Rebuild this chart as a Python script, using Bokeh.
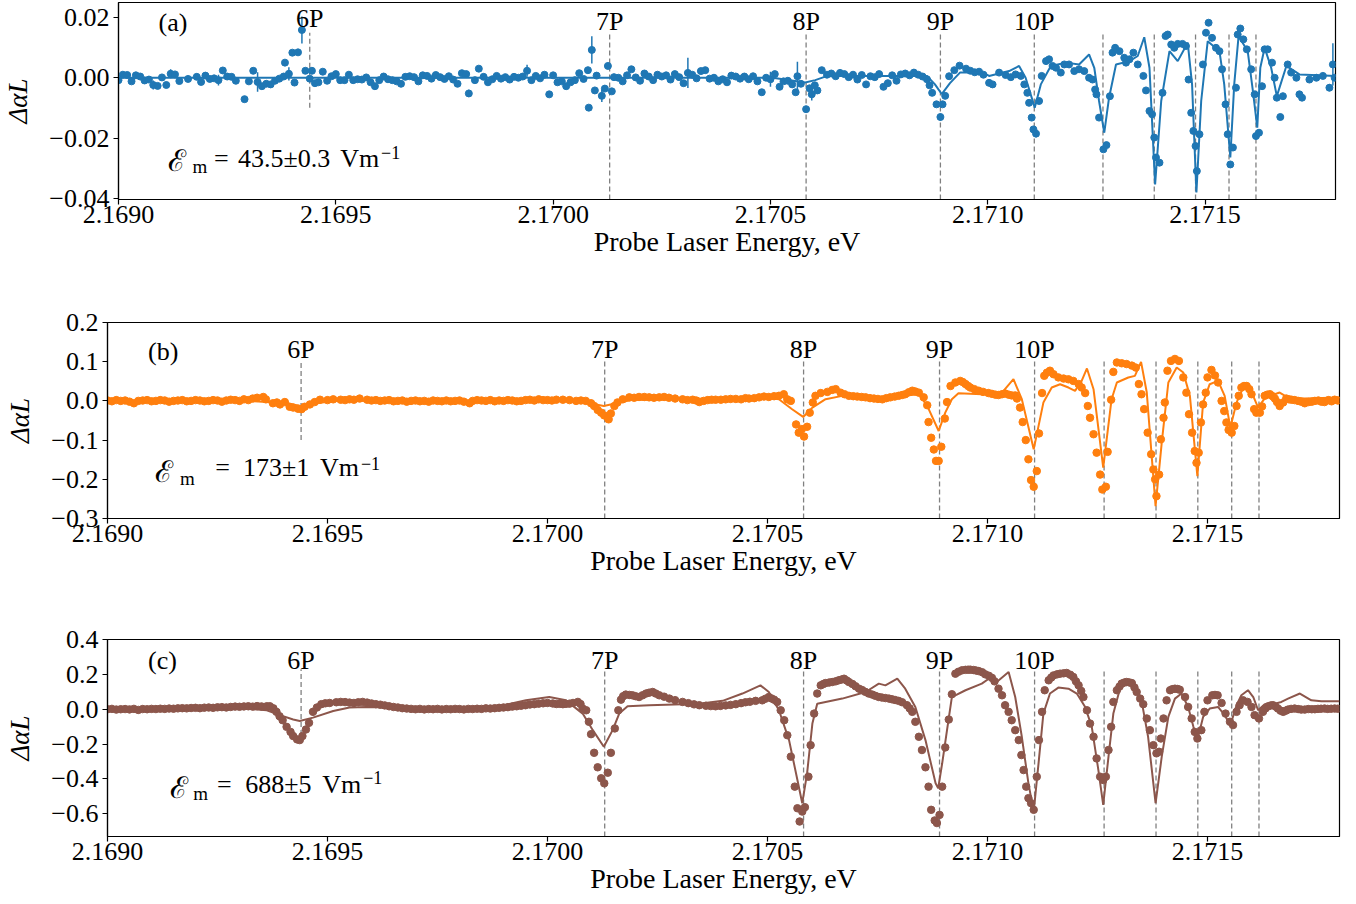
from bokeh.plotting import figure
from bokeh.models import Range1d, FixedTicker, CustomJSTickFormatter, Label
from bokeh.embed import file_html
from bokeh.resources import INLINE

FONT = "Liberation Serif"

# ---------------- shared values ----------------
x_ticks = [2.1690, 2.1695, 2.1700, 2.1705, 2.1710, 2.1715]
rydberg_E = [2.169440, 2.170130, 2.170582, 2.170891, 2.171107,
             2.171265, 2.171383, 2.171478, 2.171555, 2.171617]
rydberg_labels = ["6P", "7P", "8P", "9P", "10P"]
panel_letters = ["(a)", "(b)", "(c)"]
field_values = ["43.5\u00b10.3", "173\u00b11", "688\u00b15"]

a_yticks = [-0.04, -0.02, 0.0, 0.02]
b_yticks = [-0.3, -0.2, -0.1, 0.0, 0.1, 0.2]
c_yticks = [-0.6, -0.4, -0.2, 0.0, 0.2, 0.4]

# ---------------- panel (a): 43.5 V/m ----------------
a_E = [
 2.16900, 2.16901, 2.16902, 2.16903, 2.16904, 2.16905, 2.16906, 2.16907, 2.16908, 2.16909,
 2.16910, 2.16911, 2.16912, 2.16913, 2.16914, 2.16916, 2.16918, 2.16919, 2.16920, 2.16921,
 2.16922, 2.16923, 2.16924, 2.16925, 2.16926, 2.16927, 2.16929, 2.16930, 2.16931, 2.16932,
 2.16933, 2.16934, 2.16935, 2.16936, 2.16937, 2.16938, 2.169383, 2.169392, 2.169400, 2.169405,
 2.169413, 2.169422, 2.169430, 2.169440, 2.169445, 2.169452, 2.16946, 2.16947, 2.16948, 2.16949,
 2.16950, 2.16951, 2.16952, 2.16953, 2.16954, 2.16955, 2.16956, 2.16957, 2.16958, 2.16959,
 2.16960, 2.16961, 2.16962, 2.16963, 2.16964, 2.16965, 2.16966, 2.16967, 2.16968, 2.16969,
 2.16970, 2.16971, 2.16972, 2.16973, 2.16974, 2.16975, 2.16976, 2.16977, 2.16978, 2.16979,
 2.16980, 2.169806, 2.16982, 2.169829, 2.16984, 2.16985, 2.16986, 2.16987, 2.16988, 2.16989,
 2.16990, 2.16991, 2.16992, 2.16993, 2.16994, 2.16995, 2.16996, 2.16997, 2.16998, 2.169991,
 2.17000, 2.17001, 2.17002, 2.17003, 2.17004, 2.17005, 2.17006, 2.17007, 2.170080, 2.170082,
 2.170089, 2.170096, 2.17010, 2.170112, 2.170119, 2.170126, 2.170135, 2.17014, 2.17015, 2.17016,
 2.17017, 2.17018, 2.17019, 2.17020, 2.17021, 2.17022, 2.17023, 2.17024, 2.17025, 2.17026,
 2.17027, 2.17028, 2.17029, 2.17030, 2.17031, 2.17032, 2.17033, 2.17034, 2.17035, 2.17036,
 2.17037, 2.17038, 2.17039, 2.17040, 2.17041, 2.17042, 2.17043, 2.17044, 2.17045, 2.17046,
 2.17047, 2.170480, 2.17049, 2.17050, 2.17051, 2.170521, 2.17053, 2.17054, 2.17055, 2.170558,
 2.170562, 2.17057, 2.170582, 2.17059, 2.170595, 2.170602, 2.170608, 2.170618, 2.17063, 2.17064,
 2.17065, 2.17066, 2.17067, 2.17068, 2.17069, 2.17070, 2.17071, 2.17072, 2.17073, 2.17074,
 2.17075, 2.17076, 2.17077, 2.17078, 2.17079, 2.17080, 2.17081, 2.17082, 2.17083, 2.17084,
 2.17085, 2.17086, 2.170866, 2.170872, 2.170882, 2.170891, 2.170896, 2.170902, 2.170911, 2.170923,
 2.170935, 2.17095, 2.17096, 2.17097, 2.17098, 2.17099, 2.171003, 2.171011, 2.171026, 2.171041,
 2.171053, 2.171064, 2.171076, 2.171084, 2.171091, 2.171095, 2.171101, 2.171105, 2.171111, 2.171118,
 2.171124, 2.171134, 2.171141, 2.171149, 2.171157, 2.171168, 2.171176, 2.171187, 2.171199, 2.171210,
 2.171222, 2.171233, 2.171241, 2.171247, 2.171250, 2.171256, 2.171266, 2.171273, 2.171281, 2.171287,
 2.171293, 2.171303, 2.171314, 2.171318, 2.171326, 2.171335, 2.171345, 2.171358, 2.171364, 2.171372,
 2.171378, 2.171383, 2.171387, 2.171395, 2.171402, 2.171409, 2.171414, 2.171422, 2.171429, 2.171437,
 2.171448, 2.171456, 2.171462, 2.171468, 2.171473, 2.171478, 2.171481, 2.171487, 2.171495, 2.171502,
 2.171508, 2.171516, 2.171525, 2.171533, 2.171539, 2.171547, 2.171552, 2.171558, 2.171564, 2.171571,
 2.171575, 2.171581, 2.171588, 2.171596, 2.171606, 2.171614, 2.171617, 2.171624, 2.171631, 2.171637,
 2.171644, 2.171654, 2.171660, 2.171665, 2.171673, 2.171679, 2.171690, 2.171698, 2.171710, 2.171717,
 2.171723, 2.171740, 2.171756, 2.171771, 2.171786, 2.171794, 2.171798,
]
a_v = [
 -0.0008, 0.0010, 0.0009, -0.0012, 0.0008, 0.0004, -0.0009, -0.0006, -0.0024, -0.0027,
 0.0001, -0.0024, 0.0013, 0.0011, -0.0011, -0.0004, 0.0003, -0.0014, 0.0007, -0.0004,
 -0.0002, -0.0008, 0.0024, 0.0004, 0.0003, -0.0010, -0.0071, -0.0012, 0.0023, -0.0014,
 -0.0028, -0.0020, -0.0022, -0.0010, -0.0003, 0.0004, 0.0050, 0.0013, 0.0083, -0.0016,
 0.0084, 0.0158, 0.0023, -0.0003, 0.0023, -0.0018, -0.0015, 0.0020, -0.0010, 0.0005,
 0.0012, -0.0008, -0.0008, 0.0010, -0.0008, -0.0005, -0.0006, 0.0001, -0.0015, -0.0028,
 -0.0008, 0.0004, -0.0005, -0.0008, -0.0012, -0.0020, 0.0003, 0.0005, 0.0002, -0.0012,
 0.0008, 0.0006, -0.0003, 0.0009, 0.0002, -0.0004, 0.0005, -0.0006, -0.0020, 0.0015,
 0.0012, -0.0052, -0.0008, 0.0030, 0.0003, -0.0015, -0.0005, 0.0006, -0.0003, 0.0002,
 -0.0006, 0.0003, 0.0000, 0.0004, 0.0023, -0.0008, 0.0006, -0.0002, 0.0010, -0.0055,
 0.0008, -0.0015, -0.0012, -0.0028, -0.0015, -0.0008, 0.0015, -0.0004, 0.0025, -0.0099,
 0.0092, -0.0042, 0.0007, -0.0060, -0.0036, 0.0039, -0.0045, 0.0002, 0.0000, -0.0012,
 0.0008, 0.0028, 0.0001, -0.0010, 0.0014, 0.0004, -0.0008, 0.0010, 0.0004, 0.0008,
 -0.0006, 0.0012, 0.0002, -0.0018, 0.0016, 0.0010, -0.0002, 0.0022, 0.0025, -0.0003,
 0.0000, -0.0012, -0.0005, -0.0015, 0.0007, 0.0004, -0.0003, 0.0004, -0.0005, 0.0005,
 -0.0012, -0.0048, 0.0000, -0.0005, 0.0012, -0.0030, -0.0012, -0.0010, -0.0022, -0.0048,
 0.0005, -0.0020, -0.0104, -0.0035, -0.0055, -0.0025, -0.0042, 0.0025, 0.0010, 0.0014,
 0.0005, 0.0016, 0.0012, 0.0002, 0.0010, -0.0006, 0.0009, -0.0022, 0.0005, 0.0002,
 0.0012, -0.0030, -0.0018, 0.0008, -0.0010, 0.0011, 0.0014, 0.0008, 0.0017, 0.0010,
 0.0004, -0.0005, -0.0025, -0.0050, -0.0088, -0.0130, -0.0088, -0.0060, 0.0005, 0.0025,
 0.0040, 0.0030, 0.0023, 0.0018, 0.0020, 0.0010, -0.0017, -0.0022, 0.0017, 0.0009,
 0.0002, 0.0011, 0.0006, -0.0022, -0.0050, -0.0083, -0.0132, -0.0171, -0.0185, -0.0077,
 0.0006, 0.0055, 0.0061, 0.0039, 0.0033, 0.0017, 0.0044, 0.0044, 0.0022, 0.0028,
 0.0022, 0.0000, -0.0006, -0.0039, -0.0055, -0.0132, -0.0237, -0.0223, -0.0061, 0.0083,
 0.0099, 0.0088, 0.0066, 0.0050, 0.0061, 0.0083, 0.0044, 0.0006, -0.0042, -0.0110,
 -0.0121, -0.0198, -0.0264, -0.0281, -0.0050, 0.0138, 0.0143, 0.0110, 0.0099, 0.0112,
 0.0112, 0.0105, -0.0006, -0.0116, -0.0176, -0.0226, -0.0309, -0.0187, 0.0044, 0.0149,
 0.0182, 0.0132, 0.0099, 0.0088, 0.0028, -0.0088, -0.0187, -0.0287, -0.0231, -0.0033,
 0.0143, 0.0163, 0.0127, 0.0094, 0.0028, -0.0055, -0.0193, -0.0182, -0.0028, 0.0094,
 0.0094, 0.0050, 0.0000, -0.0066, -0.0130, -0.0061, 0.0044, 0.0017, 0.0000, -0.0055,
 -0.0066, -0.0006, 0.0000, 0.0006, -0.0033, 0.0044, 0.0000,
]
# points of panel (a) whose error bars are visible
a_err_E = [2.16908, 2.16912, 2.16923, 2.16932, 2.169392, 2.169422, 2.169806, 2.16994,
           2.170089, 2.170112, 2.17031, 2.17050, 2.170562, 2.170595, 2.170891, 2.171111,
           2.171786, 2.171794]
a_err_v = [-0.0024, 0.0013, -0.0008, -0.0014, 0.0013, 0.0158, -0.0052, 0.0023,
           0.0092, -0.0060, 0.0016, -0.0005, 0.0005, -0.0055, -0.0130, -0.0185,
           -0.0033, 0.0044]
a_err = [0.0015, 0.0015, 0.0018, 0.0032, 0.0022, 0.0045, 0.0012, 0.0020,
         0.0045, 0.0020, 0.0050, 0.0025, 0.0048, 0.0020, 0.0012, 0.0012,
         0.0012, 0.0070]

a_model_E = [
 2.169000, 2.170505, 2.170545, 2.170580, 2.170603, 2.170631, 2.170860, 2.170878, 2.170894, 2.170913,
 2.170936, 2.170989, 2.171003, 2.171049, 2.171072, 2.171087, 2.171108, 2.171122, 2.171145, 2.171180,
 2.171210, 2.171233, 2.171245, 2.171256, 2.171268, 2.171279, 2.171295, 2.171326, 2.171345, 2.171360,
 2.171372, 2.171385, 2.171399, 2.171418, 2.171437, 2.171460, 2.171470, 2.171480, 2.171491, 2.171506,
 2.171533, 2.171544, 2.171558, 2.171567, 2.171577, 2.171598, 2.171610, 2.171620, 2.171627, 2.171637,
 2.171652, 2.171665, 2.171687, 2.171717, 2.171802,
]
a_model_v = [
 0.0000, 0.0000, -0.0008, -0.0016, -0.0008, 0.0006, 0.0006, -0.0021, -0.0054, -0.0018,
 0.0017, 0.0017, 0.0006, 0.0022, 0.0039, 0.0000, -0.0099, -0.0022, 0.0039, 0.0050,
 0.0044, 0.0077, 0.0033, -0.0077, -0.0182, -0.0066, 0.0044, 0.0055, 0.0072, 0.0134,
 0.0033, -0.0353, -0.0077, 0.0088, 0.0055, 0.0116, -0.0022, -0.0380, -0.0077, 0.0121,
 0.0088, -0.0022, -0.0264, -0.0022, 0.0138, 0.0088, -0.0044, -0.0165, 0.0033, 0.0099,
 0.0033, -0.0061, 0.0039, 0.0011, 0.0006,
]

# ---------------- panel (b): 173 V/m ----------------
b_E = [
 2.16900, 2.16901, 2.16902, 2.16903, 2.16904, 2.16905, 2.16906, 2.16907, 2.16908, 2.16909,
 2.16910, 2.16911, 2.16912, 2.16913, 2.16914, 2.16915, 2.16916, 2.16917, 2.16918, 2.16919,
 2.16920, 2.16921, 2.16922, 2.16923, 2.16924, 2.16925, 2.16926, 2.16927, 2.16928, 2.16929,
 2.16930, 2.16931, 2.16932, 2.16933, 2.16934, 2.169354, 2.16936, 2.169376, 2.169385, 2.169392,
 2.169403, 2.169414, 2.169422, 2.169433, 2.169441, 2.169448, 2.169460, 2.169471, 2.169483, 2.16950,
 2.169513, 2.16953, 2.16954, 2.16955, 2.16956, 2.169573, 2.16959, 2.16960, 2.16961, 2.16962,
 2.16963, 2.16964, 2.16965, 2.16966, 2.16967, 2.16968, 2.16969, 2.16970, 2.16971, 2.16972,
 2.16973, 2.16974, 2.16975, 2.16976, 2.16977, 2.16978, 2.16979, 2.16980, 2.16981, 2.169823,
 2.16983, 2.16984, 2.16985, 2.16986, 2.16987, 2.16988, 2.16989, 2.16990, 2.16991, 2.16992,
 2.16993, 2.16994, 2.16995, 2.16996, 2.16997, 2.16998, 2.16999, 2.17000, 2.17001, 2.17002,
 2.170035, 2.17005, 2.170065, 2.170076, 2.170087, 2.170099, 2.170106, 2.170114, 2.170122, 2.170129,
 2.170137, 2.170139, 2.170144, 2.170152, 2.170159, 2.170171, 2.170186, 2.170197, 2.170208, 2.170220,
 2.170231, 2.170242, 2.170254, 2.170265, 2.170276, 2.170290, 2.170307, 2.170318, 2.170330, 2.170338,
 2.170345, 2.170355, 2.170364, 2.170373, 2.170382, 2.170394, 2.170405, 2.170416, 2.170428, 2.170440,
 2.170450, 2.170458, 2.170470, 2.170481, 2.170492, 2.170503, 2.170515, 2.170526, 2.170537, 2.170545,
 2.170553, 2.170565, 2.170571, 2.170578, 2.170583, 2.170590, 2.170596, 2.170603, 2.170609, 2.170621,
 2.170636, 2.170647, 2.170655, 2.170666, 2.170675, 2.170685, 2.170695, 2.170704, 2.170714, 2.170723,
 2.170733, 2.170742, 2.170751, 2.170761, 2.170770, 2.170779, 2.170789, 2.170798, 2.170806, 2.170813,
 2.170821, 2.170829, 2.170836, 2.170844, 2.170855, 2.170863, 2.170866, 2.170872, 2.170878, 2.170883,
 2.170889, 2.170895, 2.170903, 2.170908, 2.170916, 2.170927, 2.170938, 2.170944, 2.170950, 2.170956,
 2.170961, 2.170970, 2.170980, 2.170990, 2.171002, 2.171010, 2.171018, 2.171025, 2.171033, 2.171040,
 2.171048, 2.171055, 2.171063, 2.171067, 2.171074, 2.171080, 2.171087, 2.171093, 2.171099, 2.171105,
 2.171112, 2.171117, 2.171124, 2.171129, 2.171135, 2.171142, 2.171150, 2.171161, 2.171173, 2.171184,
 2.171195, 2.171207, 2.171214, 2.171222, 2.171228, 2.171233, 2.171241, 2.171248, 2.171256, 2.171261,
 2.171269, 2.171273, 2.171281, 2.171286, 2.171294, 2.171305, 2.171316, 2.171328, 2.171337, 2.171344,
 2.171350, 2.171356, 2.171364, 2.171372, 2.171377, 2.171381, 2.171384, 2.171390, 2.171394, 2.171400,
 2.171403, 2.171409, 2.171417, 2.171426, 2.171435, 2.171445, 2.171452, 2.171458, 2.171465, 2.171471,
 2.171475, 2.171480, 2.171485, 2.171490, 2.171496, 2.171500, 2.171509, 2.171517, 2.171524, 2.171532,
 2.171538, 2.171543, 2.171548, 2.171555, 2.171561, 2.171566, 2.171571, 2.171577, 2.171583, 2.171589,
 2.171595, 2.171600, 2.171606, 2.171611, 2.171619, 2.171624, 2.171630, 2.171636, 2.171642, 2.171648,
 2.171653, 2.171658, 2.171664, 2.171672, 2.171679, 2.171685, 2.171691, 2.171698, 2.171706, 2.171713,
 2.171721, 2.171730, 2.171737, 2.171744, 2.171752, 2.171759, 2.171766, 2.171775, 2.171782, 2.171789,
 2.171796,
]
b_v = [
 0.001, -0.001, 0.002, 0.000, 0.001, -0.002, -0.006, 0.000, 0.001, 0.002,
 -0.001, 0.000, 0.002, 0.001, -0.002, 0.000, 0.001, 0.002, -0.001, 0.000,
 0.002, 0.001, -0.001, 0.000, 0.002, 0.001, -0.002, 0.001, 0.003, 0.002,
 0.000, 0.004, 0.002, 0.006, 0.008, 0.010, 0.004, -0.006, -0.004, -0.009,
 -0.003, -0.015, -0.017, -0.020, -0.021, -0.015, -0.009, -0.003, 0.003, 0.002,
 0.004, 0.003, 0.002, 0.004, 0.003, 0.006, 0.003, 0.001, 0.002, 0.000,
 0.001, 0.002, -0.001, 0.000, 0.001, -0.002, 0.000, 0.001, -0.001, 0.000,
 -0.002, 0.001, 0.000, -0.001, 0.001, -0.001, 0.000, 0.001, -0.002, -0.006,
 0.000, 0.002, 0.001, 0.000, 0.002, -0.001, 0.001, 0.000, 0.002, 0.001,
 -0.001, 0.000, 0.002, 0.003, 0.001, 0.004, 0.002, 0.002, 0.001, 0.003,
 0.003, 0.002, 0.000, 0.001, 0.000, -0.006, -0.013, -0.023, -0.030, -0.037,
 -0.043, -0.047, -0.032, -0.013, -0.004, 0.004, 0.009, 0.008, 0.010, 0.010,
 0.009, 0.008, 0.009, 0.010, 0.008, 0.006, 0.004, 0.002, 0.003, 0.001,
 -0.003, 0.000, 0.002, 0.003, 0.003, 0.003, 0.004, 0.005, 0.005, 0.004,
 0.007, 0.006, 0.007, 0.009, 0.011, 0.010, 0.012, 0.013, 0.017, 0.004,
 0.000, -0.060, -0.081, -0.072, -0.091, -0.066, -0.030, -0.004, 0.013, 0.020,
 0.023, 0.028, 0.030, 0.021, 0.017, 0.013, 0.012, 0.011, 0.010, 0.009,
 0.007, 0.006, 0.005, 0.004, 0.007, 0.009, 0.011, 0.013, 0.015, 0.017,
 0.022, 0.026, 0.024, 0.021, 0.009, -0.011, -0.054, -0.094, -0.124, -0.153,
 -0.153, -0.117, -0.045, -0.003, 0.038, 0.047, 0.051, 0.048, 0.043, 0.038,
 0.034, 0.030, 0.026, 0.023, 0.020, 0.018, 0.016, 0.015, 0.017, 0.019,
 0.016, 0.014, 0.014, 0.006, -0.017, -0.054, -0.100, -0.149, -0.202, -0.219,
 -0.179, -0.083, 0.020, 0.064, 0.072, 0.077, 0.068, 0.060, 0.057, 0.055,
 0.051, 0.043, 0.034, 0.020, -0.013, -0.043, -0.085, -0.132, -0.188, -0.226,
 -0.219, -0.130, 0.003, 0.074, 0.098, 0.096, 0.094, 0.090, 0.085, 0.043,
 0.017, -0.021, -0.081, -0.136, -0.175, -0.200, -0.243, -0.188, -0.098, -0.043,
 -0.004, 0.077, 0.102, 0.107, 0.102, 0.060, 0.021, -0.034, -0.081, -0.128,
 -0.158, -0.132, -0.055, -0.009, 0.021, 0.060, 0.079, 0.065, 0.047, 0.000,
 -0.026, -0.055, -0.074, -0.081, -0.064, -0.013, 0.013, 0.034, 0.038, 0.038,
 0.030, 0.017, -0.021, -0.030, -0.030, -0.014, 0.013, 0.016, 0.017, 0.012,
 0.006, -0.003, -0.013, -0.004, 0.006, 0.004, 0.003, 0.002, 0.000, -0.002,
 -0.006, -0.003, -0.002, 0.000, 0.001, -0.002, -0.003, 0.002, -0.001, 0.003,
 0.001,
]
b_model_E = [
 2.169000, 2.169324, 2.169407, 2.169439, 2.169475, 2.169513, 2.170004, 2.170080, 2.170128, 2.170156,
 2.170193, 2.170496, 2.170526, 2.170556, 2.170581, 2.170602, 2.170632, 2.170670, 2.170761, 2.170821,
 2.170844, 2.170863, 2.170889, 2.170904, 2.170919, 2.170934, 2.170987, 2.171033, 2.171059, 2.171078,
 2.171105, 2.171127, 2.171146, 2.171165, 2.171184, 2.171199, 2.171214, 2.171226, 2.171241, 2.171263,
 2.171282, 2.171294, 2.171320, 2.171335, 2.171349, 2.171362, 2.171382, 2.171396, 2.171411, 2.171430,
 2.171445, 2.171460, 2.171477, 2.171490, 2.171505, 2.171524, 2.171539, 2.171552, 2.171566, 2.171581,
 2.171596, 2.171615, 2.171634, 2.171653, 2.171664, 2.171683, 2.171721, 2.171800,
]
b_model_v = [
 0.0000, 0.0000, -0.0060, -0.0128, -0.0060, 0.0000, 0.0017, -0.0026, -0.0128, -0.0060,
 0.0026, 0.0085, 0.0043, -0.0213, -0.0409, -0.0171, 0.0043, 0.0128, 0.0085, 0.0145,
 0.0171, -0.0128, -0.0767, -0.0298, 0.0043, 0.0196, 0.0171, 0.0213, 0.0554, 0.0043,
 -0.1236, -0.0043, 0.0341, 0.0426, 0.0341, 0.0256, 0.0512, 0.0827, 0.0298, -0.1705,
 0.0043, 0.0469, 0.0597, 0.0639, 0.0997, 0.0213, -0.2685, -0.1066, 0.0469, 0.0853,
 0.0725, 0.0128, -0.1918, -0.0043, 0.0426, 0.0512, 0.0128, -0.0682, -0.0043, 0.0341,
 0.0341, -0.0171, 0.0128, 0.0171, 0.0213, 0.0085, 0.0060, 0.0085,
]

# ---------------- panel (c): 688 V/m ----------------
c_E = [
 2.16900, 2.16901, 2.16902, 2.16903, 2.16904, 2.16905, 2.16906, 2.16907, 2.16908, 2.16909,
 2.16910, 2.16911, 2.16912, 2.16913, 2.16914, 2.16915, 2.16916, 2.16917, 2.16918, 2.16919,
 2.16920, 2.16921, 2.16922, 2.16923, 2.16924, 2.16925, 2.16926, 2.16927, 2.16928, 2.16929,
 2.16930, 2.16931, 2.16932, 2.16933, 2.16934, 2.16935, 2.169362, 2.169369, 2.169377, 2.169384,
 2.169391, 2.169398, 2.169407, 2.169416, 2.169422, 2.169431, 2.169437, 2.169443, 2.169451, 2.169458,
 2.169467, 2.169476, 2.169486, 2.169495, 2.169505, 2.16952, 2.16953, 2.16954, 2.16955, 2.16956,
 2.16957, 2.16958, 2.16959, 2.16960, 2.16961, 2.16962, 2.16963, 2.16964, 2.16965, 2.16966,
 2.16967, 2.16968, 2.16969, 2.16970, 2.16971, 2.16972, 2.16973, 2.16974, 2.16975, 2.16976,
 2.16977, 2.16978, 2.16979, 2.16980, 2.16981, 2.16982, 2.16983, 2.16984, 2.16985, 2.16986,
 2.16987, 2.16988, 2.16989, 2.16990, 2.16991, 2.16992, 2.16993, 2.16994, 2.16995, 2.16996,
 2.16997, 2.16998, 2.16999, 2.17000, 2.170012, 2.170020, 2.170028, 2.170035, 2.170042, 2.170050,
 2.170058, 2.170069, 2.170075, 2.170080, 2.170088, 2.170094, 2.170099, 2.170106, 2.170114, 2.170122,
 2.170129, 2.170137, 2.170144, 2.170153, 2.170161, 2.170167, 2.170172, 2.170178, 2.170186, 2.170193,
 2.170200, 2.170208, 2.170216, 2.170224, 2.170231, 2.170239, 2.170246, 2.170254, 2.170265, 2.170277,
 2.170290, 2.170307, 2.170320, 2.170333, 2.170345, 2.170360, 2.170371, 2.170382, 2.170393, 2.170405,
 2.170416, 2.170428, 2.170440, 2.170450, 2.170460, 2.170473, 2.170488, 2.170495, 2.170503, 2.170509,
 2.170515, 2.170522, 2.170530, 2.170538, 2.170545, 2.170553, 2.170562, 2.170568, 2.170573, 2.170579,
 2.170585, 2.170593, 2.170598, 2.170606, 2.170613, 2.170621, 2.170627, 2.170632, 2.170640, 2.170647,
 2.170655, 2.170662, 2.170668, 2.170674, 2.170680, 2.170685, 2.170693, 2.170700, 2.170708, 2.170715,
 2.170722, 2.170730, 2.170738, 2.170745, 2.170753, 2.170760, 2.170768, 2.170776, 2.170783, 2.170790,
 2.170798, 2.170806, 2.170817, 2.170823, 2.170829, 2.170836, 2.170844, 2.170851, 2.170859, 2.170866,
 2.170872, 2.170880, 2.170885, 2.170891, 2.170897, 2.170904, 2.170912, 2.170919, 2.170927, 2.170934,
 2.170942, 2.170950, 2.170956, 2.170961, 2.170968, 2.170974, 2.170980, 2.170988, 2.170995, 2.171003,
 2.171010, 2.171016, 2.171025, 2.171033, 2.171040, 2.171048, 2.171055, 2.171063, 2.171071, 2.171077,
 2.171082, 2.171088, 2.171093, 2.171099, 2.171105, 2.171112, 2.171117, 2.171124, 2.171130, 2.171139,
 2.171145, 2.171150, 2.171158, 2.171165, 2.171173, 2.171180, 2.171188, 2.171195, 2.171201, 2.171207,
 2.171213, 2.171218, 2.171226, 2.171233, 2.171241, 2.171248, 2.171256, 2.171263, 2.171269, 2.171275,
 2.171281, 2.171286, 2.171294, 2.171300, 2.171305, 2.171311, 2.171316, 2.171322, 2.171328, 2.171334,
 2.171339, 2.171347, 2.171354, 2.171362, 2.171369, 2.171377, 2.171384, 2.171390, 2.171394, 2.171400,
 2.171407, 2.171415, 2.171420, 2.171426, 2.171432, 2.171437, 2.171449, 2.171456, 2.171464, 2.171471,
 2.171477, 2.171486, 2.171493, 2.171500, 2.171511, 2.171517, 2.171523, 2.171532, 2.171541, 2.171551,
 2.171558, 2.171566, 2.171573, 2.171581, 2.171591, 2.171600, 2.171607, 2.171617, 2.171626, 2.171632,
 2.171638, 2.171644, 2.171649, 2.171655, 2.171660, 2.171666, 2.171672, 2.171678, 2.171683, 2.171690,
 2.171698, 2.171706, 2.171713, 2.171721, 2.171729, 2.171737, 2.171744, 2.171751, 2.171758, 2.171766,
 2.171773, 2.171781, 2.171789, 2.171796,
]
c_v = [
 0.000, 0.002, -0.002, 0.000, 0.001, -0.001, 0.002, -0.004, 0.001, 0.000,
 0.002, 0.001, 0.003, 0.002, 0.004, 0.003, 0.005, 0.006, 0.005, 0.007,
 0.008, 0.006, 0.009, 0.010, 0.008, 0.011, 0.012, 0.010, 0.013, 0.015,
 0.014, 0.016, 0.017, 0.015, 0.018, 0.016, 0.017, 0.017, 0.005, -0.015,
 -0.040, -0.063, -0.101, -0.130, -0.154, -0.173, -0.177, -0.154, -0.116, -0.078,
 -0.015, 0.010, 0.029, 0.034, 0.036, 0.040, 0.042, 0.041, 0.038, 0.036,
 0.040, 0.042, 0.038, 0.033, 0.029, 0.026, 0.022, 0.017, 0.013, 0.010,
 0.006, 0.004, 0.002, 0.000, 0.002, -0.001, 0.001, 0.000, 0.002, -0.001,
 0.001, 0.000, 0.002, 0.001, -0.001, 0.002, 0.001, 0.003, 0.002, 0.005,
 0.004, 0.006, 0.008, 0.010, 0.012, 0.015, 0.017, 0.020, 0.023, 0.027,
 0.029, 0.032, 0.034, 0.036, 0.033, 0.030, 0.031, 0.029, 0.031, 0.032,
 0.036, 0.042, 0.030, 0.004, -0.006, -0.072, -0.143, -0.250, -0.333, -0.396,
 -0.425, -0.364, -0.250, -0.110, -0.006, 0.055, 0.075, 0.084, 0.082, 0.080,
 0.075, 0.070, 0.080, 0.090, 0.095, 0.099, 0.090, 0.080, 0.072, 0.061,
 0.052, 0.042, 0.035, 0.028, 0.023, 0.020, 0.018, 0.017, 0.019, 0.022,
 0.025, 0.029, 0.035, 0.040, 0.043, 0.048, 0.051, 0.060, 0.070, 0.062,
 0.055, 0.042, -0.006, -0.063, -0.149, -0.272, -0.444, -0.568, -0.644, -0.587,
 -0.562, -0.387, -0.206, -0.025, 0.090, 0.137, 0.145, 0.150, 0.153, 0.156,
 0.160, 0.166, 0.170, 0.175, 0.165, 0.156, 0.145, 0.132, 0.118, 0.110,
 0.100, 0.090, 0.084, 0.077, 0.070, 0.067, 0.064, 0.061, 0.057, 0.053,
 0.048, 0.040, 0.023, 0.005, -0.015, -0.072, -0.158, -0.234, -0.333, -0.444,
 -0.577, -0.638, -0.653, -0.606, -0.444, -0.219, -0.059, 0.086, 0.204, 0.215,
 0.223, 0.226, 0.227, 0.227, 0.225, 0.222, 0.219, 0.212, 0.200, 0.192,
 0.180, 0.160, 0.118, 0.080, 0.023, -0.015, -0.063, -0.120, -0.177, -0.263,
 -0.349, -0.444, -0.510, -0.539, -0.577, -0.387, -0.177, -0.015, 0.109, 0.166,
 0.182, 0.194, 0.200, 0.204, 0.206, 0.208, 0.198, 0.185, 0.160, 0.137,
 0.105, 0.070, -0.006, -0.082, -0.158, -0.282, -0.387, -0.406, -0.387, -0.234,
 -0.101, 0.042, 0.109, 0.130, 0.147, 0.153, 0.156, 0.154, 0.150, 0.125,
 0.099, 0.061, 0.029, -0.053, -0.120, -0.206, -0.253, -0.244, -0.168, -0.053,
 0.051, 0.109, 0.115, 0.118, 0.116, 0.112, 0.070, 0.013, -0.053, -0.130,
 -0.168, -0.120, -0.015, 0.051, 0.080, 0.082, 0.080, 0.036, -0.025, -0.072,
 -0.091, -0.015, 0.023, 0.051, 0.042, 0.013, -0.034, -0.053, -0.015, 0.005,
 0.017, 0.022, 0.023, 0.015, 0.004, -0.008, -0.015, -0.008, -0.002, 0.002,
 0.004, 0.001, -0.002, -0.002, 0.001, 0.000, 0.000, 0.002, 0.003, 0.004,
 0.002, 0.003, 0.004, 0.003,
]
c_model_E = [
 2.169000, 2.169286, 2.169362, 2.169392, 2.169422, 2.169437, 2.169467, 2.169513, 2.169550, 2.169588,
 2.169740, 2.169891, 2.169951, 2.170004, 2.170042, 2.170080, 2.170103, 2.170128, 2.170148, 2.170163,
 2.170182, 2.170231, 2.170345, 2.170398, 2.170443, 2.170484, 2.170503, 2.170526, 2.170549, 2.170568,
 2.170579, 2.170590, 2.170602, 2.170613, 2.170670, 2.170723, 2.170753, 2.170768, 2.170795, 2.170813,
 2.170836, 2.170859, 2.170882, 2.170888, 2.170897, 2.170908, 2.170919, 2.170950, 2.170987, 2.171003,
 2.171021, 2.171048, 2.171063, 2.171078, 2.171093, 2.171105, 2.171116, 2.171127, 2.171142, 2.171161,
 2.171184, 2.171203, 2.171222, 2.171237, 2.171252, 2.171263, 2.171275, 2.171286, 2.171301, 2.171320,
 2.171335, 2.171350, 2.171365, 2.171382, 2.171396, 2.171411, 2.171426, 2.171441, 2.171456, 2.171468,
 2.171477, 2.171490, 2.171505, 2.171524, 2.171539, 2.171552, 2.171566, 2.171577, 2.171592, 2.171604,
 2.171615, 2.171630, 2.171653, 2.171668, 2.171683, 2.171710, 2.171736, 2.171759, 2.171800,
]
c_model_v = [
 0.000, 0.010, -0.006, -0.034, -0.059, -0.067, -0.048, -0.010, 0.010, 0.013,
 0.004, 0.017, 0.051, 0.070, 0.051, -0.025, -0.120, -0.215, -0.120, -0.025,
 0.017, 0.023, 0.032, 0.048, 0.090, 0.137, 0.099, -0.006, -0.177, -0.406,
 -0.539, -0.368, -0.082, 0.032, 0.061, 0.099, 0.147, 0.137, 0.175, 0.118,
 0.013, -0.177, -0.425, -0.453, -0.310, -0.120, 0.070, 0.109, 0.147, 0.175,
 0.156, 0.213, 0.070, -0.158, -0.425, -0.587, -0.310, -0.025, 0.090, 0.124,
 0.118, 0.090, 0.013, -0.101, -0.349, -0.549, -0.272, -0.025, 0.118, 0.156,
 0.137, 0.051, -0.158, -0.539, -0.272, -0.044, 0.061, 0.090, 0.013, -0.101,
 -0.177, -0.044, 0.004, 0.013, -0.034, -0.091, 0.023, 0.080, 0.109, 0.070,
 -0.006, 0.029, 0.032, 0.042, 0.061, 0.090, 0.051, 0.046, 0.046,
]

TICK_JS_X = "return tick.toFixed(4);"


def y_formatter(dec):
    return CustomJSTickFormatter(
        code="return (tick < -1e-12 ? '\u2212' : '') + Math.abs(tick).toFixed(%d);" % dec)


def make_panel(E, v, mE, mv, color, yr, yticks, ydec, fw, fh, left, right, top, bottom,
               dot, letter, letter_y, lab_y, lab6_y, dash_top, dash6_bottom, field_pieces):
    p = figure(frame_width=fw, frame_height=fh,
               x_range=Range1d(2.1690, 2.1718), y_range=Range1d(*yr),
               output_backend="svg", toolbar_location=None,
               min_border_left=left, min_border_right=right,
               min_border_top=top, min_border_bottom=bottom)
    p.background_fill_color = "white"
    p.border_fill_color = "white"
    p.outline_line_color = "black"
    p.outline_line_width = 1.2
    p.grid.visible = False

    p.xaxis.ticker = FixedTicker(ticks=x_ticks)
    p.xaxis.formatter = CustomJSTickFormatter(code=TICK_JS_X)
    p.yaxis.ticker = FixedTicker(ticks=yticks)
    p.yaxis.formatter = y_formatter(ydec)
    for ax in (p.xaxis[0], p.yaxis[0]):
        ax.axis_line_color = "black"
        ax.axis_line_width = 1.2
        ax.major_tick_in = 0
        ax.major_tick_out = 5
        ax.major_tick_line_width = 1.2
        ax.minor_tick_line_color = None
        ax.major_label_text_font = FONT
        ax.major_label_text_font_size = "26px"
        ax.major_label_text_color = "black"
        ax.axis_label_text_font = FONT
        ax.axis_label_text_color = "black"
    p.xaxis.axis_label = "Probe Laser Energy, eV"
    p.xaxis.axis_label_text_font_size = "28px"
    p.xaxis.major_label_standoff = 1
    p.xaxis.axis_label_standoff = 0
    p.xaxis.axis_label_text_font_style = "normal"
    p.yaxis.axis_label = "\u0394\u03b1L"
    p.yaxis.axis_label_text_font_size = "27px"
    p.yaxis.axis_label_text_font_style = "italic"
    p.yaxis.major_label_standoff = 4
    p.yaxis.axis_label_standoff = 13

    # dashed lines at the Rydberg P states
    y0 = [dash6_bottom] + [yr[0]] * (len(rydberg_E) - 1)
    p.segment(x0=rydberg_E, y0=y0, x1=rydberg_E, y1=[dash_top] * len(rydberg_E),
              line_color="#808080", line_width=1.3, line_dash="5 3")

    p.scatter(E, v, size=dot, color=color, marker="circle")
    p.line(mE, mv, line_color=color, line_width=2)

    for i, lab in enumerate(rydberg_labels):
        p.add_layout(Label(x=rydberg_E[i], y=(lab6_y if i == 0 else lab_y), text=lab,
                           text_align="center", text_baseline="middle",
                           text_font=FONT, text_font_size="26px", text_color="black"))
    p.add_layout(Label(x=2.169092, y=letter_y, text=letter, text_align="left",
                       text_baseline="middle", text_font=FONT, text_font_size="26px",
                       text_color="black"))
    for txt, x, y, size, fnt in field_pieces:
        p.add_layout(Label(x=x, y=y, text=txt, text_align="left", text_baseline="middle",
                           text_font=fnt, text_font_size=size, text_color="black"))
    return p


def field(e_x, m_x, eq_x, num_x, vm_x, sup_x, e_y, base, sub, sup, num):
    return [("\u2130", e_x, e_y, "30px", "DejaVu Serif"),
            ("m", m_x, sub, "19px", FONT),
            ("=", eq_x, base, "26px", FONT),
            (num, num_x, base, "26px", FONT),
            ("Vm", vm_x, base, "26px", FONT),
            ("\u22121", sup_x, sup, "18px", FONT)]


pa = make_panel(a_E, a_v, a_model_E, a_model_v, "#1f77b4", (-0.0403, 0.0249), a_yticks, 2,
                1217, 197, 118, 21, 2, 101, 7, panel_letters[0], 0.0182, 0.0185, 0.0197,
                0.0149, -0.0099,
                field(2.169114, 2.169170, 2.169220, 2.169275, 2.169510, 2.169604,
                      -0.0274, -0.0266, -0.0294, -0.0248, field_values[0]))
pa.segment(x0=a_err_E, y0=[y - e for y, e in zip(a_err_v, a_err)],
           x1=a_err_E, y1=[y + e for y, e in zip(a_err_v, a_err)],
           line_color="#1f77b4", line_width=1.5)

pb = make_panel(b_E, b_v, b_model_E, b_model_v, "#ff7f0e", (-0.3, 0.2), b_yticks, 1,
                1232, 196, 107, 17, 22, 102, 7.5, panel_letters[1], 0.125, 0.130, 0.130,
                0.102, -0.100,
                field(2.169108, 2.169165, 2.169245, 2.169308, 2.169483, 2.169576,
                      -0.179, -0.171, -0.199, -0.159, field_values[1]))

pc = make_panel(c_E, c_v, c_model_E, c_model_v, "#8c564b", (-0.73, 0.40), c_yticks, 1,
                1232, 197, 107, 17, 19, 68, 7.5, panel_letters[2], 0.28, 0.28, 0.28,
                0.229, -0.194,
                field(2.169143, 2.169195, 2.169249, 2.169313, 2.169488, 2.169581,
                      -0.451, -0.429, -0.486, -0.394, field_values[2]))

# three separate roots so that Bokeh does not align the plot frames
with open("out.html", "w", encoding="utf-8") as f:
    f.write(file_html([pa, pb, pc], INLINE))
